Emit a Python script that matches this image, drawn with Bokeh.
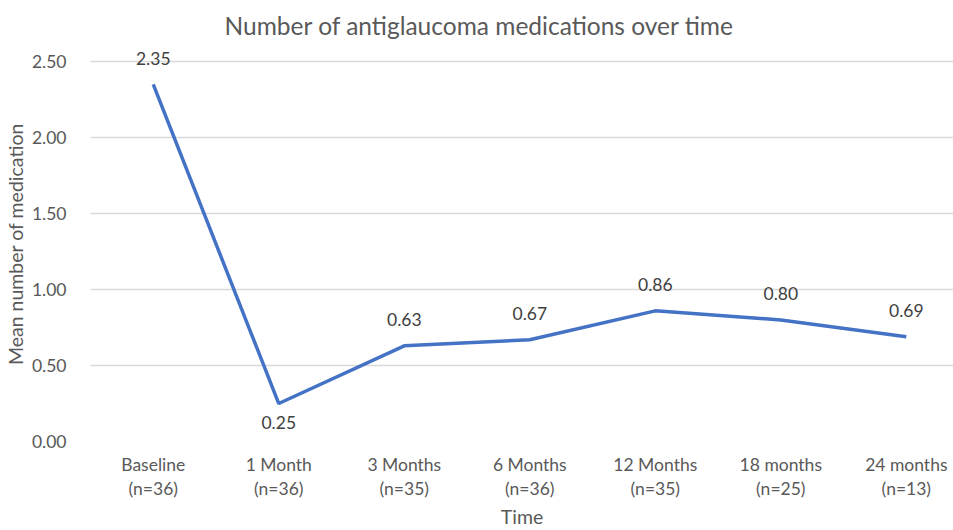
from bokeh.plotting import figure
from bokeh.models import Range1d, FixedTicker, ColumnDataSource, Title, NumeralTickFormatter
from bokeh.embed import file_html
from bokeh.resources import INLINE
from bokeh.core.properties import value

categories = ["Baseline\n(n=36)", "1 Month\n(n=36)", "3 Months\n(n=35)", "6 Months\n(n=36)",
              "12 Months\n(n=35)", "18 months\n(n=25)", "24 months\n(n=13)"]
means = [2.35, 0.25, 0.63, 0.67, 0.86, 0.80, 0.69]
y_ticks = [0.0, 0.5, 1.0, 1.5, 2.0, 2.5]

FONT = "Lato"
TXT = "#595959"

xs = list(range(len(categories)))
labels = [f"{v:.2f}" for v in means]
offsets = [-26 if i != 1 else 19 for i in xs]
src = ColumnDataSource(dict(x=xs, y=means, lab=labels, off=offsets))

p = figure(width=953, height=530, output_backend="svg", toolbar_location=None,
           x_range=Range1d(-0.5, 6.376), y_range=Range1d(0, 2.6),
           min_border_left=90, min_border_right=0, min_border_top=46, min_border_bottom=88)
p.outline_line_color = None
p.title = Title(text="Number of antiglaucoma medications over time", align="left", offset=134,
                text_font=FONT, text_font_size="24.5px", text_font_style="normal",
                text_color=TXT, standoff=14)

p.line("x", "y", source=src, line_color="#4472C4", line_width=3.5)

p.text("x", "y", text="lab", source=src, y_offset="off", text_align="center",
       text_baseline="middle", text_font=value(FONT), text_font_size="17.5px", text_color="#404040")

p.xaxis.ticker = FixedTicker(ticks=xs)
p.xaxis.major_label_overrides = {i: c for i, c in enumerate(categories)}
p.yaxis.ticker = FixedTicker(ticks=y_ticks)
p.yaxis.formatter = NumeralTickFormatter(format="0.00")

for ax in (p.xaxis[0], p.yaxis[0]):
    ax.axis_line_color = None
    ax.major_tick_line_color = None
    ax.minor_tick_line_color = None
    ax.major_label_text_font = FONT
    ax.major_label_text_color = TXT
    ax.axis_label_text_font = FONT
    ax.axis_label_text_font_size = "19.5px"
    ax.axis_label_text_font_style = "normal"
    ax.axis_label_text_color = TXT

p.xaxis.major_label_text_font_size = "17.5px"
p.yaxis.major_label_text_font_size = "17.5px"
p.xaxis.axis_label = "Time"
p.yaxis.axis_label = "Mean number of medication"
p.xaxis.major_label_standoff = 6
p.yaxis.major_label_standoff = 18
p.xaxis.axis_label_standoff = 3
p.yaxis.axis_label_standoff = 2
p.xaxis.major_label_text_line_height = 1.15

p.xgrid.grid_line_color = None
p.ygrid.ticker = FixedTicker(ticks=y_ticks)
p.ygrid.grid_line_color = "#D9D9D9"
p.ygrid.grid_line_width = 1.5

open("out.html", "w").write(file_html(p, INLINE))
